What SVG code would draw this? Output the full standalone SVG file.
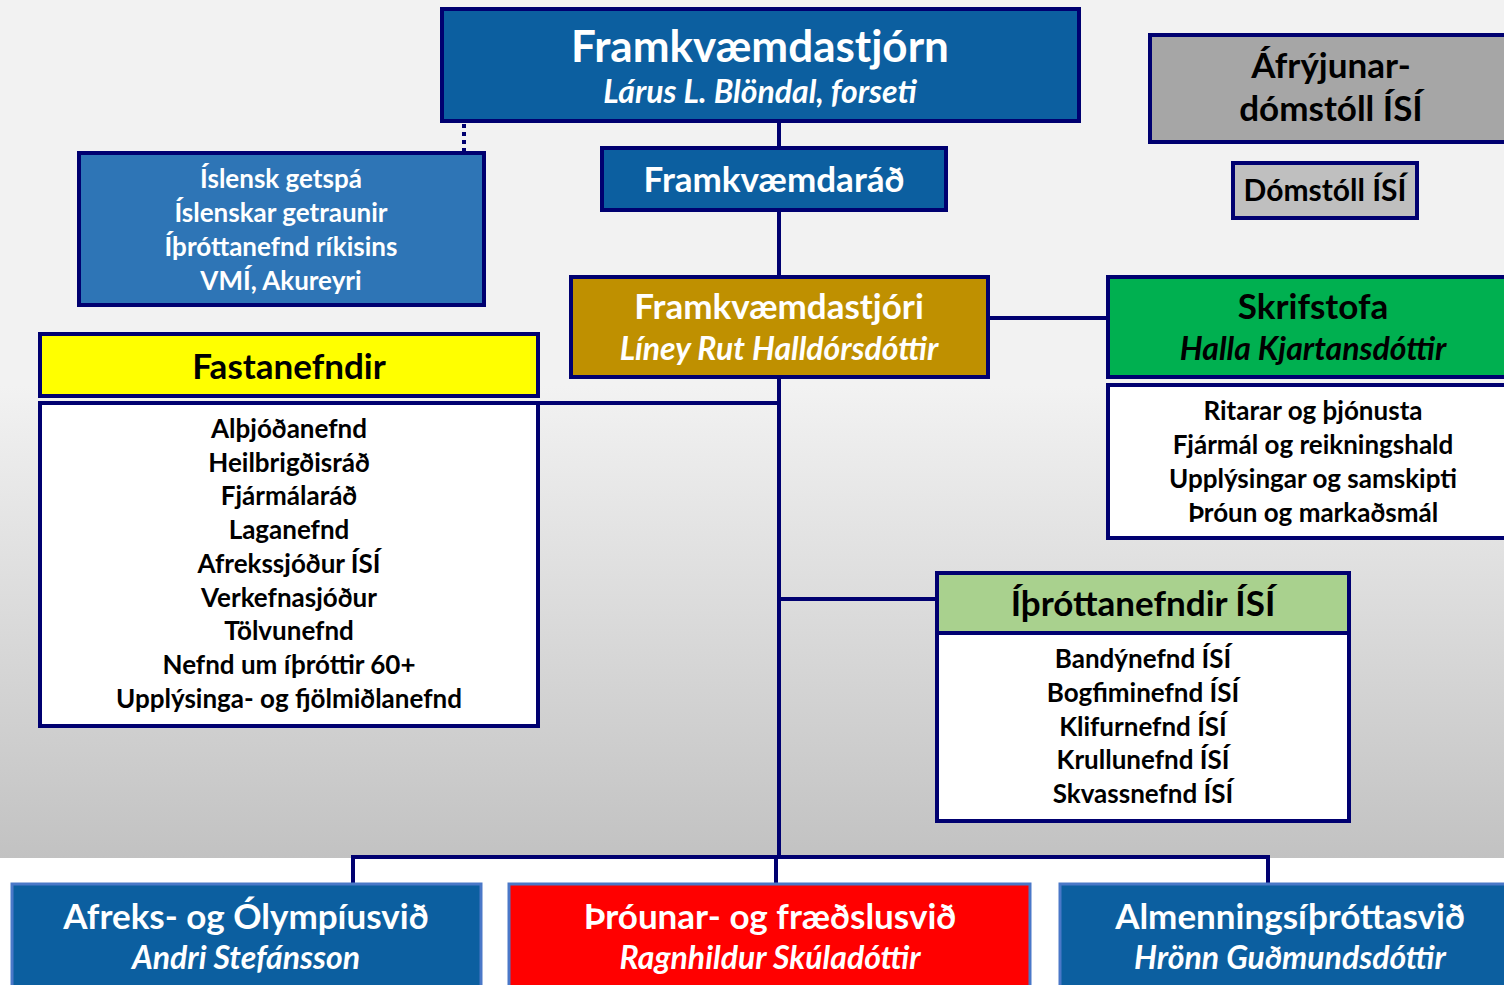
<svg xmlns="http://www.w3.org/2000/svg" width="1504" height="985" viewBox="0 0 1504 985">
<defs>
<linearGradient id="bg" x1="0" y1="0" x2="0" y2="858" gradientUnits="userSpaceOnUse">
<stop offset="0" stop-color="#f2f2f2"/>
<stop offset="0.45" stop-color="#f2f2f2"/>
<stop offset="1" stop-color="#c2c2c2"/>
</linearGradient>
<style>
.nb{stroke:#000070;stroke-width:4}
.lb{stroke:#4a78c8;stroke-width:3}
.t{font-family:Lato,"Open Sans","Liberation Sans",sans-serif;font-weight:bold;text-anchor:middle}
.i{font-style:italic}
.w{fill:#ffffff}
.k{fill:#000000}
.ln{stroke:#000070;stroke-width:4;fill:none}
.h{font-size:35px}
.n{font-size:32px}
.s{font-size:26px}
</style>
</defs>
<rect x="0" y="0" width="1504" height="858" fill="url(#bg)"/>
<rect x="0" y="858" width="1504" height="127" fill="#ffffff"/>

<g id="connectors">
<line class="ln" x1="464" y1="124" x2="464" y2="151" stroke-dasharray="4,4"/>
<line class="ln" x1="779" y1="122" x2="779" y2="148"/>
<line class="ln" x1="779" y1="211" x2="779" y2="276"/>
<line class="ln" x1="779" y1="378" x2="779" y2="859"/>
<line class="ln" x1="989" y1="318" x2="1107" y2="318"/>
<line class="ln" x1="540" y1="403" x2="779" y2="403"/>
<line class="ln" x1="779" y1="599" x2="936" y2="599"/>
<polyline class="ln" points="353,883 353,857 1268,857 1268,884"/>
<line class="ln" x1="776" y1="857" x2="776" y2="883"/>
</g>

<g id="framkvaemdastjorn">
<rect class="nb" x="442" y="9" width="637" height="112" fill="#0c5fa0"/>
<text class="t w" x="760" y="62" font-size="44">Framkvæmdastjórn</text>
<text class="t w i n" x="760" y="103">Lárus L. Blöndal, forseti</text>
</g>

<g id="getspa">
<rect class="nb" x="79" y="153" width="405" height="152" fill="#2e75b6"/>
<text class="t w s" x="281" y="188">Íslensk getspá</text>
<text class="t w s" x="281" y="222">Íslenskar getraunir</text>
<text class="t w s" x="281" y="256">Íþróttanefnd ríkisins</text>
<text class="t w s" x="281" y="290">VMÍ, Akureyri</text>
</g>

<g id="framkvaemdarad">
<rect class="nb" x="602" y="148" width="344" height="62" fill="#0c5fa0"/>
<text class="t w h" x="774" y="192">Framkvæmdaráð</text>
</g>

<g id="afryjunar">
<rect class="nb" x="1150" y="35" width="360" height="107" fill="#a6a6a6"/>
<text class="t k h" x="1331" y="78">Áfrýjunar-</text>
<text class="t k h" x="1331" y="121">dómstóll ÍSÍ</text>
</g>

<g id="domstoll">
<rect class="nb" x="1233" y="163" width="184" height="55" fill="#bfbfbf"/>
<text class="t k" x="1325" y="201" font-size="30">Dómstóll ÍSÍ</text>
</g>

<g id="framkvaemdastjori">
<rect class="nb" x="571" y="277" width="417" height="100" fill="#bf9000"/>
<text class="t w h" x="779" y="319">Framkvæmdastjóri</text>
<text class="t w i n" x="779" y="360">Líney Rut Halldórsdóttir</text>
</g>

<g id="skrifstofa">
<rect class="nb" x="1108" y="277" width="402" height="100" fill="#00b050"/>
<text class="t k h" x="1313" y="319">Skrifstofa</text>
<text class="t k i n" x="1313" y="360">Halla Kjartansdóttir</text>
<rect class="nb" x="1108" y="385" width="402" height="153" fill="#ffffff"/>
<text class="t k s" x="1313" y="420">Ritarar og þjónusta</text>
<text class="t k s" x="1313" y="454">Fjármál og reikningshald</text>
<text class="t k s" x="1313" y="488">Upplýsingar og samskipti</text>
<text class="t k s" x="1313" y="522">Þróun og markaðsmál</text>
</g>

<g id="fastanefndir">
<rect class="nb" x="40" y="334" width="498" height="62" fill="#ffff00"/>
<text class="t k h" x="289" y="379">Fastanefndir</text>
<rect class="nb" x="40" y="403" width="498" height="323" fill="#ffffff"/>
<text class="t k s" x="289" y="438">Alþjóðanefnd</text>
<text class="t k s" x="289" y="472">Heilbrigðisráð</text>
<text class="t k s" x="289" y="505">Fjármálaráð</text>
<text class="t k s" x="289" y="539">Laganefnd</text>
<text class="t k s" x="289" y="573">Afrekssjóður ÍSÍ</text>
<text class="t k s" x="289" y="607">Verkefnasjóður</text>
<text class="t k s" x="289" y="640">Tölvunefnd</text>
<text class="t k s" x="289" y="674">Nefnd um íþróttir 60+</text>
<text class="t k s" x="289" y="708">Upplýsinga- og fjölmiðlanefnd</text>
</g>

<g id="ithrottanefndir">
<rect class="nb" x="937" y="573" width="412" height="60" fill="#a9d18e"/>
<text class="t k h" x="1143" y="616">Íþróttanefndir ÍSÍ</text>
<rect class="nb" x="937" y="633" width="412" height="188" fill="#ffffff"/>
<text class="t k s" x="1143" y="668">Bandýnefnd ÍSÍ</text>
<text class="t k s" x="1143" y="702">Bogfiminefnd ÍSÍ</text>
<text class="t k s" x="1143" y="736">Klifurnefnd ÍSÍ</text>
<text class="t k s" x="1143" y="769">Krullunefnd ÍSÍ</text>
<text class="t k s" x="1143" y="803">Skvassnefnd ÍSÍ</text>
</g>

<g id="afreks">
<rect class="lb" x="12" y="884" width="469" height="110" fill="#0c5fa0"/>
<text class="t w h" x="246" y="929">Afreks- og Ólympíusvið</text>
<text class="t w i n" x="246" y="969">Andri Stefánsson</text>
</g>

<g id="throunar">
<rect class="lb" x="509" y="884" width="521" height="110" fill="#ff0000"/>
<text class="t w h" x="770" y="929">Þróunar- og fræðslusvið</text>
<text class="t w i n" x="770" y="969">Ragnhildur Skúladóttir</text>
</g>

<g id="almennings">
<rect class="lb" x="1060" y="884" width="460" height="110" fill="#0c5fa0"/>
<text class="t w h" x="1290" y="929">Almenningsíþróttasvið</text>
<text class="t w i n" x="1290" y="969">Hrönn Guðmundsdóttir</text>
</g>
</svg>
